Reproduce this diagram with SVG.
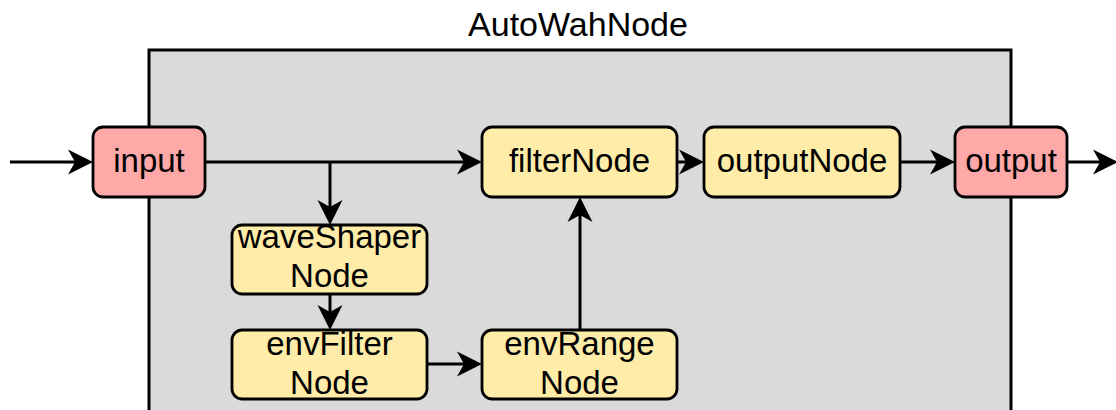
<svg xmlns="http://www.w3.org/2000/svg" width="1116" height="410" viewBox="0 0 1116 410">
  <style>
    .lbl { font-family: "Liberation Sans", Arial, Helvetica, sans-serif; font-size: 33px; fill: #000; text-anchor: middle; }
    .title { font-family: "Liberation Sans", Arial, Helvetica, sans-serif; font-size: 34px; fill: #000; text-anchor: middle; }
    .io { fill: #ffa8a8; stroke: #000; stroke-width: 2.8; }
    .proc { fill: #ffeca8; stroke: #000; stroke-width: 2.8; }
    .edge { fill: none; stroke: #000; stroke-width: 3; marker-end: url(#arrow); }
  </style>
  <defs>
    <marker id="arrow" markerUnits="userSpaceOnUse" markerWidth="26" markerHeight="26" refX="7" refY="12.5" orient="auto" viewBox="0 0 26 25">
      <path d="M0,0 L25,12.5 L0,25 L7,12.5 Z" fill="#000"/>
    </marker>
  </defs>

  <!-- enclosing AutoWahNode group -->
  <g id="autoWahNode">
    <rect x="149" y="50" width="862" height="380" fill="#dadada" stroke="#000" stroke-width="3"/>
    <text class="title" x="578" y="36">AutoWahNode</text>
  </g>

  <!-- signal connections -->
  <g id="connectors">
    <path class="edge" d="M10,162 H75"/>
    <path class="edge" d="M205,162 H464"/>
    <path class="edge" d="M330,162 V207"/>
    <path class="edge" d="M330,294 V312"/>
    <path class="edge" d="M427,364 H464"/>
    <path class="edge" d="M580,330 V215"/>
    <path class="edge" d="M677,162 H686"/>
    <path class="edge" d="M900,162 H937"/>
    <path class="edge" d="M1067,162 H1100"/>
  </g>

  <g id="input">
    <rect class="io" x="93" y="127" width="112" height="70" rx="10"/>
    <text class="lbl" x="149" y="172">input</text>
  </g>

  <g id="filterNode">
    <rect class="proc" x="482" y="127" width="195" height="70" rx="10"/>
    <text class="lbl" x="579.5" y="172">filterNode</text>
  </g>

  <g id="outputNode">
    <rect class="proc" x="704" y="127" width="196" height="70" rx="10"/>
    <text class="lbl" x="802" y="172">outputNode</text>
  </g>

  <g id="output">
    <rect class="io" x="955" y="127" width="112" height="70" rx="10"/>
    <text class="lbl" x="1011" y="172">output</text>
  </g>

  <g id="waveShaperNode">
    <rect class="proc" x="232" y="225" width="195" height="69" rx="10"/>
    <text class="lbl" x="329.5" y="248">waveShaper</text>
    <text class="lbl" x="329.5" y="287">Node</text>
  </g>

  <g id="envFilterNode">
    <rect class="proc" x="232" y="330" width="195" height="69" rx="10"/>
    <text class="lbl" x="329.5" y="355">envFilter</text>
    <text class="lbl" x="329.5" y="394">Node</text>
  </g>

  <g id="envRangeNode">
    <rect class="proc" x="482" y="330" width="195" height="69" rx="10"/>
    <text class="lbl" x="579.5" y="355">envRange</text>
    <text class="lbl" x="579.5" y="394">Node</text>
  </g>
</svg>
